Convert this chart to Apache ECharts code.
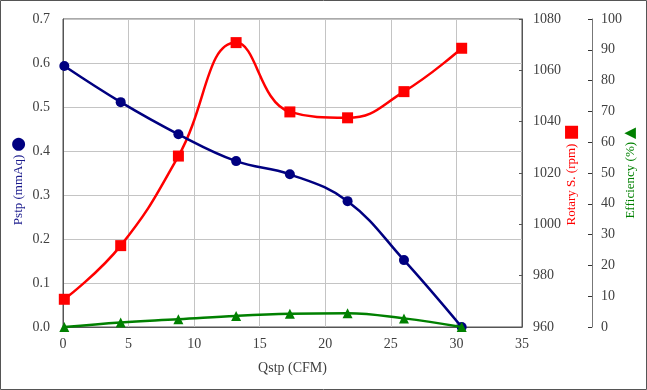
<!DOCTYPE html>
<html><head><meta charset="utf-8">
<script src="https://cdn.jsdelivr.net/npm/echarts@6/dist/echarts.min.js"></script>
<style>html,body{margin:0;padding:0;background:#fff}#c{width:647px;height:390px}</style>
</head><body><div id="c"></div>
<script>
const qstp = [0.1, 4.4, 8.8, 13.2, 17.3, 21.7, 26.0, 30.4];
const pstp = [0.593, 0.511, 0.438, 0.377, 0.347, 0.286, 0.152, 0.0];
const rpm = [970.8, 991.7, 1026.6, 1070.8, 1043.8, 1041.5, 1051.7, 1068.6];
const eff = [0.0, 1.5, 2.5, 3.6, 4.3, 4.5, 2.8, 0.0];
const xTicks = [0, 35, 5];
const pTicks = [0, 0.7, 0.1];
const rTicks = [960, 1080, 20];
const eTicks = [0, 100, 10];

const FONT = 'Liberation Serif';
const txt = '#404040';
const pair = (xs, ys) => xs.map((x, i) => [x, ys[i]]);
const chart = echarts.init(document.getElementById('c'));
chart.setOption({
  animation: false,
  textStyle: {fontFamily: FONT},
  grid: {left: 63, right: 125, top: 19, bottom: 63, containLabel: false, outerBoundsMode: 'none', show: true, borderColor: '#555', borderWidth: 1},
  graphic: [{type: 'rect', shape: {x: 0.5, y: 0.5, width: 646, height: 389}, style: {fill: 'none', stroke: '#555', lineWidth: 1}}],
  xAxis: {
    type: 'value', min: xTicks[0], max: xTicks[1], interval: xTicks[2],
    name: 'Qstp (CFM)', nameLocation: 'middle', nameGap: 34, nameMoveOverlap: false,
    nameTextStyle: {color: txt, fontSize: 14, fontFamily: FONT},
    axisLine: {lineStyle: {color: '#555'}}, axisTick: {show: false},
    axisLabel: {color: txt, fontSize: 14, margin: 10, fontFamily: FONT},
    splitLine: {show: true, lineStyle: {color: '#c4c4c4'}}
  },
  yAxis: [{
    type: 'value', position: 'left', min: pTicks[0], max: pTicks[1], interval: pTicks[2],
    name: '{t|Pstp (mmAq)} {c|●}', nameLocation: 'middle', nameGap: 36, nameRotate: 90, nameMoveOverlap: false,
    nameTextStyle: {padding: [0, 16, 0, 0], rich: {t: {color: '#1a1a8c', fontSize: 13, fontFamily: FONT}, c: {color: '#000080', fontSize: 17, fontFamily: 'DejaVu Sans'}}},
    axisLine: {show: true, lineStyle: {color: '#555'}}, axisTick: {show: false},
    axisLabel: {color: txt, fontSize: 14, margin: 13, fontFamily: FONT, formatter: v => v.toFixed(1)},
    splitLine: {show: true, lineStyle: {color: '#c4c4c4'}}
  }, {
    type: 'value', position: 'right', min: rTicks[0], max: rTicks[1], interval: rTicks[2],
    name: '{t|Rotary S. (rpm)} {c|■}', nameLocation: 'middle', nameGap: 41, nameRotate: 90, nameMoveOverlap: false,
    nameTextStyle: {padding: [0, 4, 0, 0], rich: {t: {color: '#ff0000', fontSize: 13, fontFamily: FONT}, c: {color: '#ff0000', fontSize: 17, fontFamily: 'DejaVu Sans'}}},
    axisLine: {show: true, lineStyle: {color: '#555'}}, axisTick: {show: true, inside: true, length: 3, lineStyle: {color: '#555'}},
    axisLabel: {color: txt, fontSize: 14, margin: 11, fontFamily: FONT, formatter: v => String(v)},
    splitLine: {show: false}
  }, {
    type: 'value', position: 'right', offset: 70, min: eTicks[0], max: eTicks[1], interval: eTicks[2],
    name: '{t|Efficiency (%)} {c|▲}', nameLocation: 'middle', nameGap: 31, nameRotate: 90, nameMoveOverlap: false,
    nameTextStyle: {rich: {t: {color: '#008000', fontSize: 13, fontFamily: FONT}, c: {color: '#008000', fontSize: 15, fontFamily: 'DejaVu Sans'}}},
    axisLine: {show: true, lineStyle: {color: '#777'}}, axisTick: {show: true, inside: true, length: 4, lineStyle: {color: '#333'}},
    axisLabel: {color: txt, fontSize: 14, margin: 9, fontFamily: FONT},
    splitLine: {show: false}
  }],
  series: [{
    type: 'line', yAxisIndex: 0, data: pair(qstp, pstp), smooth: 0.4,
    symbol: 'circle', symbolSize: 10, lineStyle: {color: '#000080', width: 2.5}, itemStyle: {color: '#000080'}, z: 3
  }, {
    type: 'line', yAxisIndex: 1, data: pair(qstp, rpm), smooth: 0.45,
    symbol: 'rect', symbolSize: 11, lineStyle: {color: '#ff0000', width: 2.5}, itemStyle: {color: '#ff0000'}, z: 2
  }, {
    type: 'line', yAxisIndex: 2, data: pair(qstp, eff), smooth: 0.4,
    symbol: 'triangle', symbolSize: 10, lineStyle: {color: '#008000', width: 2.5}, itemStyle: {color: '#008000'}, z: 4
  }]
});
</script></body></html>
